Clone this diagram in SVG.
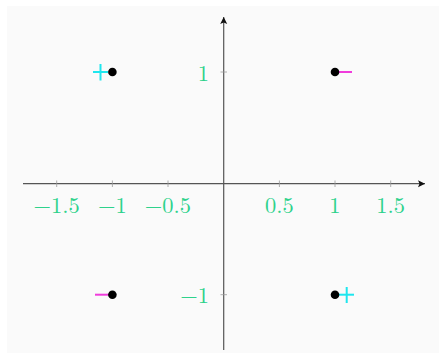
<svg xmlns="http://www.w3.org/2000/svg" width="446" height="359" viewBox="0 0 446 359">
<defs>
<style>
.axis{stroke:#555;stroke-width:1.2;fill:none}
.tick{stroke:#999;stroke-width:0.8}
.lbl{font-family:"Latin Modern Roman","DejaVu Serif","Liberation Serif",serif;font-size:22.5px;fill:#2ed28c}
.dot{fill:#000}
.mag{stroke:#f03cdc;stroke-width:2}
.cyn{stroke:#1ee6ee;stroke-width:2}
</style>
<marker id="ah" markerWidth="8" markerHeight="8" refX="7" refY="4" orient="auto" markerUnits="userSpaceOnUse">
<path d="M0,0.5 L7,4 L0,7.5 L1.5,4 Z" fill="#111"/>
</marker>
</defs>
<rect x="0" y="0" width="446" height="359" fill="#fff"/>
<rect x="7" y="6" width="432" height="347" fill="#fafafa"/>
<g id="connectors">
<line class="axis" x1="23" y1="183.7" x2="425" y2="183.7" marker-end="url(#ah)"/>
<line class="axis" x1="223.7" y1="350" x2="223.7" y2="17" marker-end="url(#ah)"/>
</g>
<g id="ticks">
<line class="tick" x1="56.7" y1="180.5" x2="56.7" y2="187"/>
<line class="tick" x1="112.4" y1="180.5" x2="112.4" y2="187"/>
<line class="tick" x1="168" y1="180.5" x2="168" y2="187"/>
<line class="tick" x1="279.4" y1="180.5" x2="279.4" y2="187"/>
<line class="tick" x1="335" y1="180.5" x2="335" y2="187"/>
<line class="tick" x1="390.7" y1="180.5" x2="390.7" y2="187"/>
<line class="tick" x1="220.5" y1="72" x2="227" y2="72"/>
<line class="tick" x1="220.5" y1="294.7" x2="227" y2="294.7"/>
</g>
<g id="labels">
<text class="lbl" x="56.7" y="213" text-anchor="middle">−1.5</text>
<text class="lbl" x="112.4" y="213" text-anchor="middle">−1</text>
<text class="lbl" x="168" y="213" text-anchor="middle">−0.5</text>
<text class="lbl" x="279.4" y="213" text-anchor="middle">0.5</text>
<text class="lbl" x="335" y="213" text-anchor="middle">1</text>
<text class="lbl" x="390.7" y="213" text-anchor="middle">1.5</text>
<text class="lbl" x="209" y="81" text-anchor="end">1</text>
<text class="lbl" x="209" y="303" text-anchor="end">−1</text>
</g>
<g id="p1">
<line class="mag" x1="335" y1="72" x2="352" y2="72"/>
<circle class="dot" cx="335" cy="72" r="4.3"/>
</g>
<g id="p2">
<line class="cyn" x1="93" y1="72" x2="108" y2="72"/>
<line class="cyn" x1="100.5" y1="64" x2="100.5" y2="80.5"/>
<circle class="dot" cx="112.4" cy="72" r="4.3"/>
</g>
<g id="p3">
<line class="mag" x1="95" y1="294.7" x2="112" y2="294.7"/>
<circle class="dot" cx="112.4" cy="294.7" r="4.3"/>
</g>
<g id="p4">
<line class="cyn" x1="339" y1="294.7" x2="354" y2="294.7"/>
<line class="cyn" x1="346.7" y1="287" x2="346.7" y2="303"/>
<circle class="dot" cx="335" cy="294.7" r="4.3"/>
</g>
</svg>
